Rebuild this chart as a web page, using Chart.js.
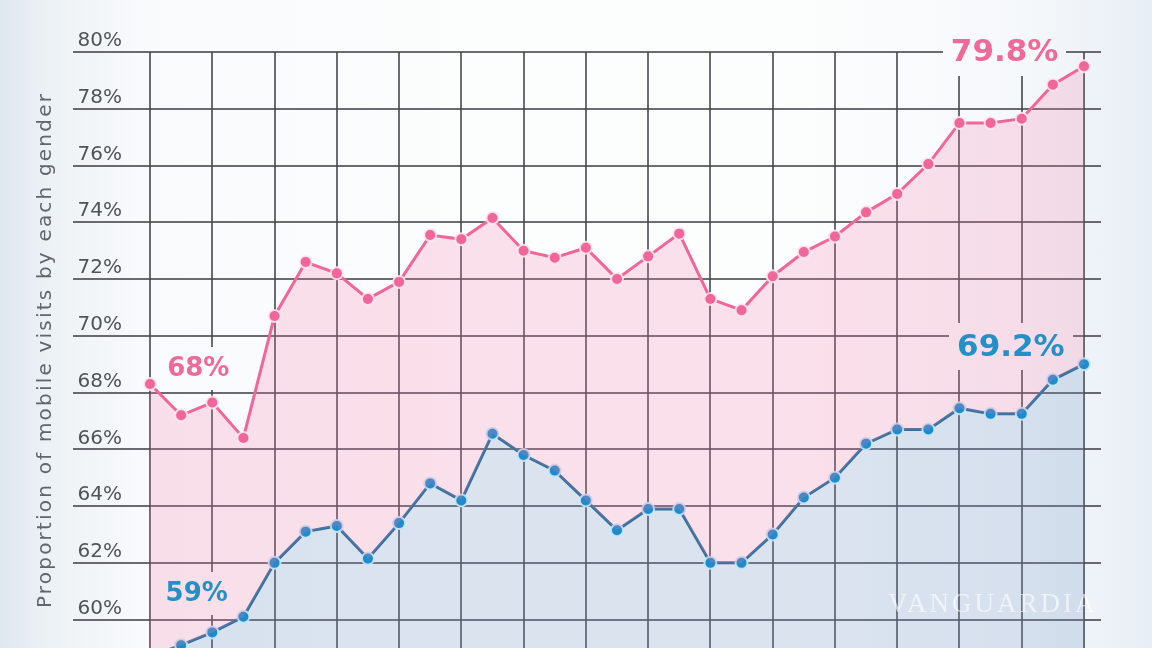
<!DOCTYPE html>
<html><head><meta charset="utf-8">
<script src="https://cdn.jsdelivr.net/npm/chart.js@4.4.1/dist/chart.umd.min.js"></script>
<style>
html,body{margin:0;padding:0;width:1152px;height:648px;overflow:hidden;}
body{background:linear-gradient(to right,#dfe7ef 0%,#ecf1f5 4%,#f8fafc 12%,#fcfdfd 40%,#fcfdfd 70%,#f6f9fb 88%,#edf2f8 96%,#e8eef5 100%);}
#wrap{position:relative;width:1152px;height:648px;}
</style></head><body><div id="wrap"><canvas id="c" width="1152" height="648"></canvas></div>
<script>
// ---- data ----
const periods = ['1','2','3','4','5','6','7','8','9','10','11','12','13','14','15','16','17','18','19','20','21','22','23','24','25','26','27','28','29','30','31'];
const femaleShare = [68.3, 67.2, 67.65, 66.4, 70.7, 72.6, 72.2, 71.3, 71.9, 73.55, 73.4, 74.15, 73.0, 72.75, 73.1, 72.0, 72.8, 73.6, 71.3, 70.9, 72.1, 72.95, 73.5, 74.35, 75.0, 76.05, 77.5, 77.5, 77.65, 78.85, 79.5];
const maleShare = [58.7, 59.1, 59.55, 60.1, 62.0, 63.1, 63.3, 62.15, 63.4, 64.8, 64.2, 66.55, 65.8, 65.25, 64.2, 63.15, 63.9, 63.9, 62.0, 62.0, 63.0, 64.3, 65.0, 66.2, 66.7, 66.7, 67.45, 67.25, 67.25, 68.45, 69.0];
const calloutTexts = ['68%', '59%', '79.8%', '69.2%'];
const yAxisTitle = 'Proportion of mobile visits by each gender';
const watermarkText = 'VANGUARDIA';

// ---- styles ----
const GRID = 'rgba(70,70,78,0.8)';
const PINK = '#f0669a';
const BLUE_LINE = '#33729f';
const BLUE_PT = '#1f8bcb';
const FONT = "'DejaVu Sans', 'Noto Sans', sans-serif";

const calloutPlacement = [
  {xi: 1.55, yv: 68.85, size: 26, color: '#f06a98'},
  {xi: 1.5,  yv: 60.92, size: 26, color: '#2490c8'},
  {xi: 27.45, yv: 80.0, size: 31, color: '#f06a98'},
  {xi: 27.65, yv: 69.62, size: 31, color: '#2490c8'}
];

function maskRects(chart) {
  const ctx = chart.ctx, xs = chart.scales.x, ys = chart.scales.y;
  return calloutTexts.map((t, i) => {
    const p = calloutPlacement[i];
    ctx.save();
    ctx.font = `700 ${p.size}px ${FONT}`;
    const w = ctx.measureText(t).width;
    ctx.restore();
    const cx = xs.getPixelForValue(p.xi), cy = ys.getPixelForValue(p.yv);
    const h = p.size * 0.75;
    return {t, p, cx, cy, x: cx - w / 2 - 8, y: cy - h / 2 - 12, w: w + 16, h: h + 24};
  });
}

const calloutPlugin = {
  id: 'callouts',
  beforeDatasetsDraw(chart) {
    const ctx = chart.ctx;
    maskRects(chart).forEach(r => ctx.clearRect(r.x, r.y, r.w, r.h));
  },
  afterDatasetsDraw(chart) {
    const ctx = chart.ctx;
    maskRects(chart).forEach(r => {
      ctx.save();
      ctx.font = `700 ${r.p.size}px ${FONT}`;
      ctx.fillStyle = r.p.color;
      ctx.textAlign = 'center';
      ctx.textBaseline = 'middle';
      ctx.fillText(r.t, r.cx, r.cy + 1);
      ctx.restore();
    });
  },
  afterDraw(chart) {
    const ctx = chart.ctx;
    ctx.save();
    ctx.font = "27px 'Liberation Serif', serif";
    ctx.letterSpacing = '3px';
    ctx.fillStyle = 'rgba(255,255,255,0.6)';
    ctx.textBaseline = 'alphabetic';
    ctx.fillText(watermarkText, 888, 612);
    ctx.restore();
  }
};

function fitFix(w, spacing) {
  return s => {
    s.width = w; s.paddingTop = 0; s.paddingBottom = 0;
    if (spacing && !s._spaced) {
      const orig = s.drawTitle;
      s.drawTitle = function (...a) {
        const c = this.ctx; c.save(); c.letterSpacing = spacing; orig.apply(this, a); c.restore();
      };
      s._spaced = true;
    }
  };
}

new Chart(document.getElementById('c'), {
  type: 'line',
  data: {
    labels: periods,
    datasets: [
      {
        label: 'Women',
        data: femaleShare,
        borderColor: PINK,
        borderWidth: 3,
        backgroundColor: 'rgba(248,125,168,0.22)',
        fill: '+1',
        pointRadius: 6,
        pointBackgroundColor: PINK,
        pointBorderColor: 'rgba(255,235,242,0.85)',
        pointBorderWidth: 2,
        tension: 0,
        clip: false
      },
      {
        label: 'Men',
        data: maleShare,
        borderColor: BLUE_LINE,
        borderWidth: 3,
        backgroundColor: 'rgba(120,150,200,0.25)',
        fill: 'start',
        pointRadius: 6,
        pointBackgroundColor: BLUE_PT,
        pointBorderColor: 'rgba(200,232,248,0.9)',
        pointBorderWidth: 2,
        tension: 0,
        clip: false
      }
    ]
  },
  options: {
    responsive: false,
    devicePixelRatio: 1,
    animation: false,
    layout: {autoPadding: false, padding: {left: 0, right: 51, top: 52, bottom: 0}},
    plugins: {legend: {display: false}, tooltip: {enabled: false}},
    scales: {
      x: {
        type: 'category',
        offset: false,
        border: {display: false},
        grid: {color: c => (c.index % 2 === 0 ? GRID : 'rgba(0,0,0,0)'), lineWidth: 2, drawTicks: false},
        ticks: {display: false, autoSkip: false, padding: 0}
      },
      y: {
        position: 'left',
        min: 59, max: 80,
        border: {display: false},
        grid: {color: GRID, lineWidth: 2, tickLength: 77, drawTicks: true},
        ticks: {
          stepSize: 2, includeBounds: false,
          callback: v => v + '%',
          color: '#505459',
          font: {family: FONT, size: 20},
          crossAlign: 'near', padding: -49, labelOffset: -11
        },
        title: {display: true, text: yAxisTitle, color: '#62666c', font: {family: FONT, size: 20}, padding: {top: 34, bottom: 0}},
        afterFit: fitFix(150, '2.2px')
      },
      y2: {
        position: 'right',
        min: 59, max: 80,
        border: {display: false},
        grid: {drawOnChartArea: false, color: GRID, lineWidth: 2, tickLength: 17},
        ticks: {display: false, stepSize: 2, includeBounds: false},
        afterFit: fitFix(17)
      }
    }
  },
  plugins: [calloutPlugin]
});
</script></body></html>
